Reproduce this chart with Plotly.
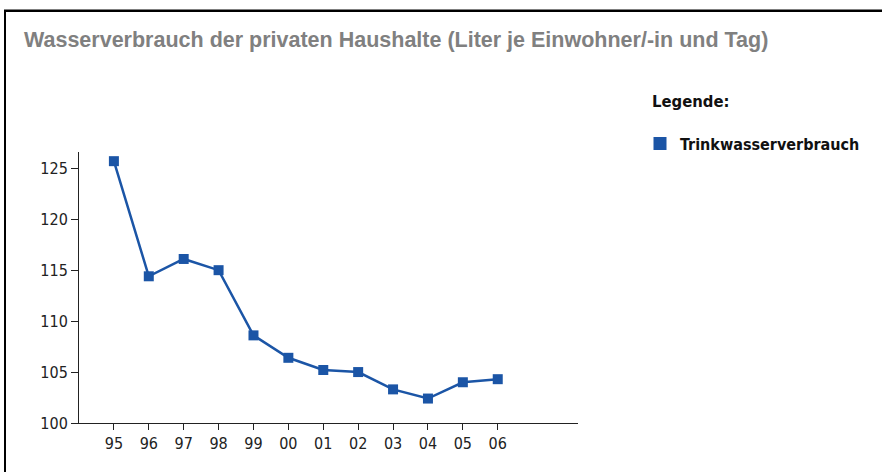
import plotly.graph_objects as go

years = ["95", "96", "97", "98", "99", "00", "01", "02", "03", "04", "05", "06"]
verbrauch = [125.7, 114.4, 116.1, 115.0, 108.6, 106.4, 105.2, 105.0, 103.3, 102.4, 104.0, 104.3]
y_ticks = [100, 105, 110, 115, 120, 125]
title_text = "Wasserverbrauch der privaten Haushalte (Liter je Einwohner/-in und Tag)"
legend_title = "Legende:"
series_name = "Trinkwasserverbrauch"

W, H = 882, 472
L, R, T, B = 79, 578, 152, 423  # plot area in pixels
def px(x):
    return (x - L) / (R - L)
def py(y):
    return (B - y) / (B - T)

BLUE = "#1b55a6"
NARROW = "DejaVu Sans Condensed, Liberation Sans Narrow, Arial Narrow, sans-serif"

xs = list(range(len(years)))
fig = go.Figure()
fig.add_trace(go.Scatter(
    x=xs, y=verbrauch, mode="lines+markers",
    line=dict(color=BLUE, width=2.5),
    marker=dict(symbol="square", size=10, color=BLUE),
    showlegend=False, hoverinfo="skip"))
fig.add_trace(go.Scatter(
    x=[None], y=[None], mode="markers", name=series_name,
    marker=dict(symbol="square", size=13, color=BLUE),
    showlegend=True))

fig.update_layout(
    width=W, height=H,
    margin=dict(l=L, r=W - R, t=T, b=H - B, pad=0),
    paper_bgcolor="white", plot_bgcolor="white",
    xaxis=dict(
        range=[-1, 13.3], tickvals=xs, ticktext=years,
        showgrid=False, zeroline=False, showline=True, linecolor="#222", linewidth=1,
        ticks="outside", ticklen=6, tickcolor="#222", tickwidth=1,
        tickfont=dict(family=NARROW, size=16, color="#222"), fixedrange=True),
    yaxis=dict(
        range=[100, 126.6], tickvals=y_ticks,
        showgrid=False, zeroline=False, showline=True, linecolor="#222", linewidth=1,
        ticks="outside", ticklen=7, tickcolor="#222", tickwidth=1,
        tickfont=dict(family=NARROW, size=16, color="#222"), fixedrange=True),
    legend=dict(
        x=px(640), y=py(143.5), xanchor="left", yanchor="middle",
        font=dict(family=NARROW, size=16, color="#111", weight="bold"),
        bgcolor="rgba(0,0,0,0)", borderwidth=0),
    showlegend=True,
    annotations=[
        dict(text=title_text, xref="paper", yref="paper",
             x=px(22), y=py(40), xanchor="left", yanchor="middle", showarrow=False,
             font=dict(family="Liberation Sans, Arial, sans-serif", size=21.5,
                       color="#808080", weight="bold")),
        dict(text=legend_title, xref="paper", yref="paper",
             x=px(650), y=py(101), xanchor="left", yanchor="middle", showarrow=False,
             font=dict(family=NARROW, size=16.5, color="#111", weight="bold")),
    ],
    shapes=[
        dict(type="line", xref="paper", yref="paper", x0=px(5), x1=px(5), y0=py(10), y1=py(480),
             line=dict(color="black", width=2)),
        dict(type="line", xref="paper", yref="paper", x0=px(4), x1=px(890), y0=py(10.7), y1=py(10.7),
             line=dict(color="black", width=2.5)),
    ],
)

fig.write_html("out.html", config={"displayModeBar": False},
               post_script="document.body.style.margin='0px';document.body.style.padding='0px';")
